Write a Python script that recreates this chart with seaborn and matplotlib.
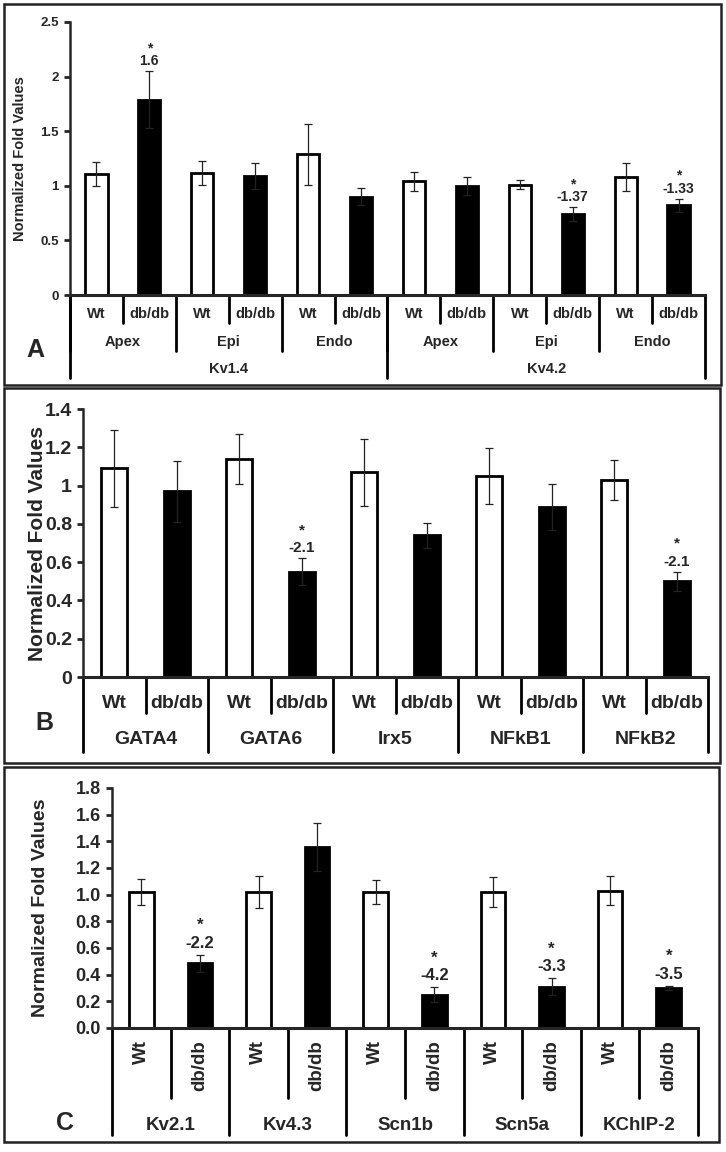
import numpy as np
import pandas as pd
import matplotlib
matplotlib.use("Agg")
import matplotlib.pyplot as plt
import matplotlib.transforms as mtransforms
from matplotlib import font_manager
from matplotlib.patches import Rectangle
import seaborn as sns

# panel A : Kv1.4 / Kv4.2 by region
a_channels = ["Kv1.4", "Kv4.2"]
a_regions = ["Apex", "Epi", "Endo", "Apex", "Epi", "Endo"]
a_values = [1.11, 1.79, 1.12, 1.09, 1.29, 0.90, 1.04, 1.00, 1.01, 0.74, 1.08, 0.82]
a_errors = [0.11, 0.26, 0.11, 0.12, 0.28, 0.08, 0.085, 0.08, 0.04, 0.065, 0.13, 0.06]
a_marks = ["", "1.6", "", "", "", "", "", "", "", "-1.37", "", "-1.33"]
a_yticks = [0, 0.5, 1, 1.5, 2, 2.5]
a_yticklabels = ["0", "0.5", "1", "1.5", "2", "2.5"]

# panel B : transcription factors
b_genes = ["GATA4", "GATA6", "Irx5", "NFkB1", "NFkB2"]
b_values = [1.09, 0.97, 1.14, 0.55, 1.07, 0.74, 1.05, 0.89, 1.03, 0.50]
b_errors = [0.20, 0.16, 0.13, 0.07, 0.175, 0.065, 0.145, 0.12, 0.105, 0.05]
b_marks = ["", "", "", "-2.1", "", "", "", "", "", "-2.1"]
b_yticks = [0, 0.2, 0.4, 0.6, 0.8, 1.0, 1.2, 1.4]
b_yticklabels = ["0", "0.2", "0.4", "0.6", "0.8", "1", "1.2", "1.4"]

# panel C : channels and subunits
c_genes = ["Kv2.1", "Kv4.3", "Scn1b", "Scn5a", "KChIP-2"]
c_values = [1.02, 0.485, 1.02, 1.36, 1.02, 0.25, 1.02, 0.31, 1.03, 0.30]
c_errors = [0.10, 0.065, 0.12, 0.18, 0.09, 0.055, 0.11, 0.062, 0.107, 0.015]
c_marks = ["", "-2.2", "", "", "", "-4.2", "", "-3.3", "", "-3.5"]
c_yticks = [0, 0.2, 0.4, 0.6, 0.8, 1.0, 1.2, 1.4, 1.6, 1.8]
c_yticklabels = ["0.0", "0.2", "0.4", "0.6", "0.8", "1.0", "1.2", "1.4", "1.6", "1.8"]

genotypes = ["Wt", "db/db"]

sns.set_style("ticks")
names = {f.name for f in font_manager.fontManager.ttflist}
regular = "Liberation Sans" if "Liberation Sans" in names else "DejaVu Sans"
narrow = "Liberation Sans Narrow" if "Liberation Sans Narrow" in names else regular
plt.rcParams["font.family"] = [regular, "DejaVu Sans"]

W, H = 726, 1152
fig = plt.figure(figsize=(W / 100, H / 100), dpi=100)


def add_ax(left, top, right, bottom):
    return fig.add_axes([left / W, 1 - bottom / H, (right - left) / W, (bottom - top) / H])


def frame(x0, y0, x1, y1):
    r = Rectangle((x0 / W, 1 - y1 / H), (x1 - x0) / W, (y1 - y0) / H, transform=fig.transFigure,
                  fill=False, edgecolor="#222222", linewidth=1.8)
    fig.patches.append(r)


def draw_bars(ax, values, errors, marks, yticks, yticklabels, tickfont, mark_font, mark_off):
    n = len(values)
    df = pd.DataFrame({"bar": [str(i) for i in range(n)], "value": values,
                       "geno": genotypes * (n // 2)})
    sns.barplot(data=df, x="bar", y="value", hue="geno", palette={"Wt": "white", "db/db": "black"},
                dodge=False, width=0.42, edgecolor="black", linewidth=2, errorbar=None,
                legend=False, ax=ax)
    ax.errorbar(np.arange(n), values, yerr=errors, fmt="none", ecolor="#222222",
                elinewidth=0.9, capsize=3, capthick=0.9, zorder=5)
    ax.set_xlim(-0.5, n - 0.5)
    ax.set_ylim(yticks[0], yticks[-1])
    ax.set_xticks([])
    ax.set_xlabel("")
    ax.set_yticks(yticks)
    ax.set_yticklabels(yticklabels, **tickfont)
    ax.tick_params(axis="y", length=4, width=2, pad=4)
    sns.despine(ax=ax)
    ax.spines["left"].set_linewidth(1.8)
    ax.spines["bottom"].set_linewidth(2.2)
    ax.set_facecolor("none")
    for i, m in enumerate(marks):
        if m:
            top = values[i] + errors[i]
            ax.annotate(m, (i, top), xytext=(0, mark_off[0]), textcoords="offset pixels",
                        ha="center", va="bottom", **mark_font)
            ax.annotate("*", (i, top), xytext=(0, mark_off[1]), textcoords="offset pixels",
                        ha="center", va="bottom", **mark_font)


def vline(ax, x, depth, hpx):
    tr = mtransforms.blended_transform_factory(ax.transData, ax.transAxes)
    ax.plot([x, x], [0, -depth / hpx], transform=tr, color="black", linewidth=2, clip_on=False)


def label(ax, x, depth, hpx, text, **kw):
    tr = mtransforms.blended_transform_factory(ax.transData, ax.transAxes)
    ax.text(x, -depth / hpx, text, transform=tr, ha="center", va="center", **kw)


# ---------------- panel A
frame(4, 4, 721, 385)
ax_a = add_ax(70, 22, 705, 295)
ha_px = 295 - 22
draw_bars(ax_a, a_values, a_errors, a_marks, a_yticks, a_yticklabels,
          dict(fontsize=9.5, fontweight="bold", family=narrow),
          dict(fontsize=10, fontweight="bold", family=narrow), (3, 16))
ax_a.set_ylabel("Normalized Fold Values", fontsize=10.5, fontweight="bold")
ax_a.yaxis.set_label_coords(-0.068, 0.5)
for i in range(len(a_values)):
    label(ax_a, i, 19, ha_px, genotypes[i % 2], fontsize=10.5, fontweight="bold", family=narrow)
for i in range(0, len(a_values), 2):
    vline(ax_a, i + 0.5, 28, ha_px)
for g, reg in enumerate(a_regions):
    label(ax_a, 2 * g + 0.5, 47, ha_px, reg, fontsize=10.5, fontweight="bold", family=narrow)
    vline(ax_a, 2 * g - 0.5, 56, ha_px)
for c, ch in enumerate(a_channels):
    label(ax_a, 6 * c + 2.5, 74, ha_px, ch, fontsize=10.5, fontweight="bold", family=narrow)
for x in [-0.5, 5.5, 11.5]:
    vline(ax_a, x, 83, ha_px)
fig.text(35 / W, 1 - 350 / H, "A", fontsize=18, fontweight="bold", ha="center", va="center")

# ---------------- panel B
frame(4, 388, 720, 763)
ax_b = add_ax(83, 409, 708, 677)
hb_px = 677 - 409
draw_bars(ax_b, b_values, b_errors, b_marks, b_yticks, b_yticklabels,
          dict(fontsize=14, fontweight="bold", family=narrow),
          dict(fontsize=11, fontweight="bold", family=narrow), (3, 21))
ax_b.set_ylabel("Normalized Fold Values", fontsize=15, fontweight="bold")
ax_b.yaxis.set_label_coords(-0.058, 0.5)
for i in range(len(b_values)):
    label(ax_b, i, 26, hb_px, genotypes[i % 2], fontsize=14, fontweight="bold", family=narrow)
for i in range(0, len(b_values), 2):
    vline(ax_b, i + 0.5, 36, hb_px)
for g, gene in enumerate(b_genes):
    label(ax_b, 2 * g + 0.5, 63, hb_px, gene, fontsize=14, fontweight="bold", family=narrow)
    vline(ax_b, 2 * g - 0.5, 75, hb_px)
vline(ax_b, len(b_values) - 0.5, 75, hb_px)
fig.text(44 / W, 1 - 723 / H, "B", fontsize=18, fontweight="bold", ha="center", va="center")

# ---------------- panel C
frame(4, 767, 719, 1142)
ax_c = add_ax(112, 788, 698, 1028)
hc_px = 1028 - 788
draw_bars(ax_c, c_values, c_errors, c_marks, c_yticks, c_yticklabels,
          dict(fontsize=13, fontweight="bold"),
          dict(fontsize=12, fontweight="bold", family=narrow), (4, 22))
ax_c.set_ylabel("Normalized Fold Values", fontsize=14, fontweight="bold")
ax_c.yaxis.set_label_coords(-0.108, 0.5)
tr_c = mtransforms.blended_transform_factory(ax_c.transData, ax_c.transAxes)
for i in range(len(c_values)):
    ax_c.text(i, -12 / hc_px, genotypes[i % 2], transform=tr_c, ha="center", va="top",
              rotation=90, fontsize=13.5, fontweight="bold")
for i in range(0, len(c_values), 2):
    vline(ax_c, i + 0.5, 70, hc_px)
for g, gene in enumerate(c_genes):
    label(ax_c, 2 * g + 0.5, 97, hc_px, gene, fontsize=13.5, fontweight="bold")
    vline(ax_c, 2 * g - 0.5, 107, hc_px)
vline(ax_c, len(c_values) - 0.5, 107, hc_px)
fig.text(65 / W, 1 - 1123 / H, "C", fontsize=18, fontweight="bold", family=narrow,
         ha="center", va="center")

fig.savefig("out.png", dpi=100)
